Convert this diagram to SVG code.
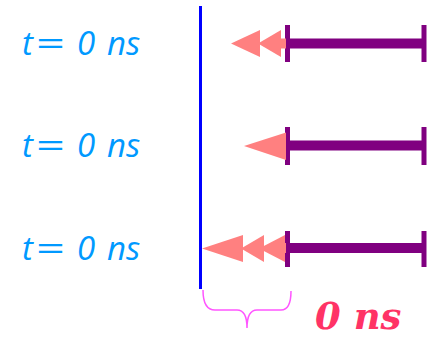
<svg xmlns="http://www.w3.org/2000/svg" width="427" height="338" viewBox="0 0 427 338">
<style>
.lbl{font-family:"Open Sans","Noto Sans",sans-serif;font-style:italic;font-size:33px;fill:#0099FF}
.bar{stroke:#800080;stroke-width:10;fill:none}
.tick{stroke:#800080;stroke-width:5;fill:none}
.head{fill:#FF8080}
.shaft{stroke:#FF8080;stroke-width:10}
</style>
<rect width="427" height="338" fill="#fff"/>
<g id="labels">
<text class="lbl" y="55"><tspan x="22">t</tspan><tspan x="35" textLength="29" lengthAdjust="spacingAndGlyphs">=</tspan><tspan x="77">0</tspan><tspan x="107">ns</tspan></text>
<text class="lbl" y="157"><tspan x="22">t</tspan><tspan x="35" textLength="29" lengthAdjust="spacingAndGlyphs">=</tspan><tspan x="77">0</tspan><tspan x="107">ns</tspan></text>
<text class="lbl" y="260"><tspan x="22">t</tspan><tspan x="35" textLength="29" lengthAdjust="spacingAndGlyphs">=</tspan><tspan x="77">0</tspan><tspan x="107">ns</tspan></text>
</g>
<g id="timeline">
<line x1="200.5" y1="6" x2="200.5" y2="289" stroke="#0000FF" stroke-width="3"/>
</g>
<g id="connectors">
<g id="row1">
<line class="bar" x1="287" y1="43.5" x2="424" y2="43.5"/>
<line class="tick" x1="287.5" y1="25" x2="287.5" y2="62"/>
<line class="tick" x1="424" y1="25" x2="424" y2="62"/>
<line class="shaft" x1="279" y1="43.5" x2="286" y2="43.5"/>
<polygon class="head" points="231,43.5 260,30 260,57"/>
<polygon class="head" points="258,43.5 281,30 281,57"/>
</g>
<g id="row2">
<line class="bar" x1="287" y1="145.5" x2="424" y2="145.5"/>
<line class="tick" x1="287.5" y1="127" x2="287.5" y2="165"/>
<line class="tick" x1="424" y1="127" x2="424" y2="165"/>
<polygon class="head" points="244,146 286,132.5 286,160"/>
</g>
<g id="row3">
<line class="bar" x1="287" y1="248" x2="424" y2="248"/>
<line class="tick" x1="287.5" y1="231" x2="287.5" y2="267"/>
<line class="tick" x1="424" y1="231" x2="424" y2="267"/>
<line class="shaft" x1="284" y1="248" x2="286" y2="248"/>
<polygon class="head" points="202,248.5 243,235 243,262"/>
<polygon class="head" points="241,248.5 264,235 264,262"/>
<polygon class="head" points="259,248.5 285,235 285,262"/>
</g>
</g>
<g id="brace">
<path d="M203,290 Q203,310 215,310 L237,310 Q247,310 247,328 Q247,310 257,310 L281,310 Q291,310 291,291" fill="none" stroke="#FF55FF" stroke-width="1.5"/>
<text x="315" y="329" font-family="'DejaVu Serif',serif" font-weight="bold" font-style="italic" font-size="37" fill="#FF3366">0 ns</text>
</g>
</svg>
